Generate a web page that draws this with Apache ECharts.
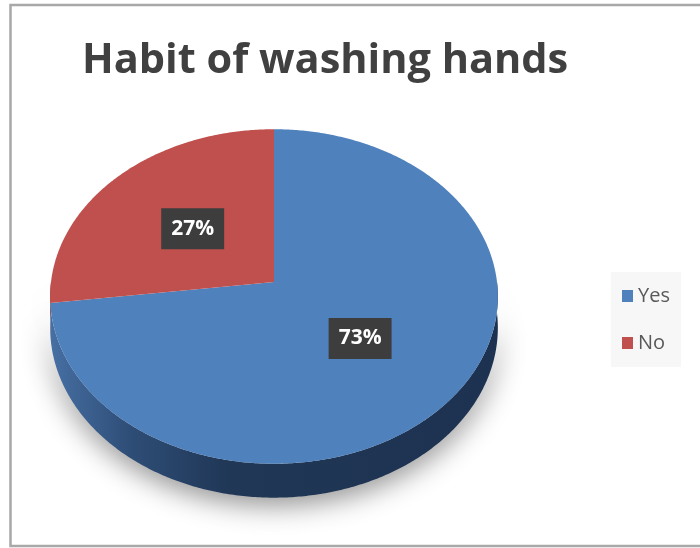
<!DOCTYPE html>
<html>
<head>
<meta charset="utf-8">
<script src="https://cdn.jsdelivr.net/npm/echarts@6/dist/echarts.min.js"></script>
<style>
  html, body { margin: 0; padding: 0; background: #ffffff; }
  #chart { width: 700px; height: 548px; }
</style>
</head>
<body>
<div id="chart"></div>
<script>
// ---- data ----
const categories = ['Yes', 'No'];
const shares = [73, 27];
const titleText = 'Habit of washing hands';

// ---- styling ----
const topColors = ['#4F81BD', '#C0504D'];
const sideStops = [
  ['#466fa3', '#2e4d76', '#203756', '#1d3250'],
  ['#8a3836', '#6e2a28', '#5a2120', '#561f1e']
];

// tilted disc seen in perspective (screen pixels)
const disc = { cx: 274, cy: 282, rx: 223, ry: 166, tilt: 0.0866, depth: 31 };
const total = shares.reduce((a, b) => a + b, 0);

// angle measured clockwise from 12 o'clock; r = fraction of radius; drop = wall depth
function project(theta, r, drop) {
  const u = r * Math.sin(theta);
  const v = -r * Math.cos(theta);
  const w = 1 - disc.tilt * v;
  return [disc.cx + disc.rx * u / w, disc.cy + (disc.ry * v + drop) / w];
}

function arc(a0, a1, drop) {
  const pts = [];
  const n = Math.max(2, Math.ceil((a1 - a0) / 0.01));
  for (let k = 0; k <= n; k++) pts.push(project(a0 + (a1 - a0) * k / n, 1, drop));
  return pts;
}

function renderSlice(params, api) {
  const i = api.value(0);
  const before = shares.slice(0, i).reduce((a, b) => a + b, 0);
  const a0 = 2 * Math.PI * before / total;
  const a1 = 2 * Math.PI * (before + api.value(1)) / total;
  const children = [];

  // front wall, only where the rim faces the viewer
  const s = Math.max(a0, Math.PI / 2), e = Math.min(a1, 3 * Math.PI / 2);
  if (e > s) {
    const wall = arc(s, e, 0).concat(arc(s, e, disc.depth).reverse());
    const st = sideStops[i];
    children.push({
      type: 'polygon',
      z2: 1,
      shape: { points: wall },
      style: {
        fill: new echarts.graphic.LinearGradient(disc.cx - disc.rx, 0, disc.cx + disc.rx, 0, [
          { offset: 0, color: st[0] }, { offset: 0.18, color: st[1] },
          { offset: 0.4, color: st[2] }, { offset: 1, color: st[3] }
        ], true),
        shadowBlur: 28,
        shadowColor: 'rgba(0,0,0,0.45)',
        shadowOffsetY: 7
      }
    });
  }

  // top face
  children.push({
    type: 'polygon',
    z2: 5,
    shape: { points: [project(0, 0, 0)].concat(arc(a0, a1, 0)) },
    style: { fill: topColors[i] }
  });

  // percentage label at half radius on the mid angle
  const mid = project((a0 + a1) / 2, 0.5, 0);
  children.push({
    type: 'text',
    z2: 10,
    x: mid[0],
    y: mid[1],
    style: {
      text: Math.round(api.value(1) / total * 100) + '%',
      fill: '#ffffff',
      font: 'bold 21px "Open Sans", Lato, sans-serif',
      align: 'center',
      verticalAlign: 'middle',
      backgroundColor: '#3d3d3d',
      padding: [10, 10, 10, 10],
      boxShadowBlur: 5,
      boxShadowColor: 'rgba(0,0,0,0.45)',
      boxShadowOffsetX: 3,
      boxShadowOffsetY: 3
    }
  });

  return { type: 'group', children };
}

const chart = echarts.init(document.getElementById('chart'), null, { renderer: 'canvas' });

chart.setOption({
  backgroundColor: '#ffffff',
  animation: false,
  title: {
    text: titleText,
    left: 77,
    top: 35,
    textStyle: {
      fontFamily: '"Open Sans", Lato, sans-serif',
      fontWeight: 'bold',
      fontSize: 41.5,
      color: '#404040'
    }
  },
  legend: {
    orient: 'vertical',
    left: 611,
    top: 272,
    padding: [14, 11, 14, 11],
    itemGap: 27,
    itemWidth: 11,
    itemHeight: 12,
    itemTextGap: 4,
    icon: 'rect',
    backgroundColor: '#f7f7f7',
    data: categories,
    textStyle: {
      fontFamily: '"Open Sans", Lato, sans-serif',
      fontSize: 20,
      color: '#595959'
    }
  },
  graphic: [{
    type: 'rect',
    silent: true,
    shape: { x: 10.5, y: 5, width: 800, height: 541 },
    style: { fill: 'none', stroke: '#a8a8a8', lineWidth: 2.5 }
  }],
  series: categories.map((name, i) => ({
    type: 'custom',
    name: name,
    coordinateSystem: 'none',
    itemStyle: { color: topColors[i] },
    renderItem: renderSlice,
    data: [[i, shares[i]]]
  }))
});
</script>
</body>
</html>
